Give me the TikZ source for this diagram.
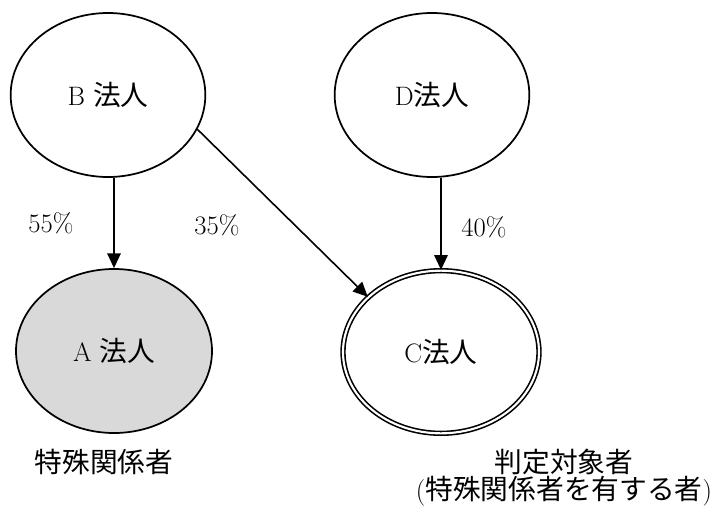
\documentclass[tikz,border=0pt]{standalone}
\usepackage{fontspec}
\newfontfamily\jp[Scale=1.04]{Noto Sans CJK JP}
\usetikzlibrary{positioning,arrows.meta,shapes.geometric}
\definecolor{shade}{HTML}{D9D9D9}

\tikzset{
  corp/.style={ellipse, draw, line width=1.3pt, inner sep=0pt,
    minimum width=146pt, minimum height=123pt},
  link/.style={-{Triangle[length=11pt,width=10pt]}, line width=1.2pt},
}

\begin{document}
\begin{tikzpicture}[x=0.75pt, y=-0.75pt, font=\fontsize{20}{24}\selectfont]
\useasboundingbox (0,0) rectangle (715,511);
% companies
\node[corp] (B) at (108,95) {B {\jp 法人}};
\node[corp] (D) at (432,95) {D{\jp 法人}};
\node[corp, fill=shade, minimum width=147pt] (A) at (114,351) {A {\jp 法人}};
\node[corp, double, double distance=1.6pt, line width=1.2pt,
  minimum width=147pt, minimum height=122pt] (C) at (441,352) {C{\jp 法人}};
% shares
\node (p55) at (51,223) {55\%};
\node (p35) at (217,225) {35\%};
\node (p40) at (484,227) {40\%};
\draw[link] (B.south -| A.north) -- (A.north);
\draw[link] (B.-21) -- (C.143);
\draw[link] (D.south -| C.north) -- (C.north);
% captions
\node (capA) at (104,462) {\jp 特殊関係者};
\node (capC) at (564,462) {\jp 判定対象者};
\node (capC2) at (564,491) {({\jp 特殊関係者を有する者})};
\end{tikzpicture}
\end{document}
